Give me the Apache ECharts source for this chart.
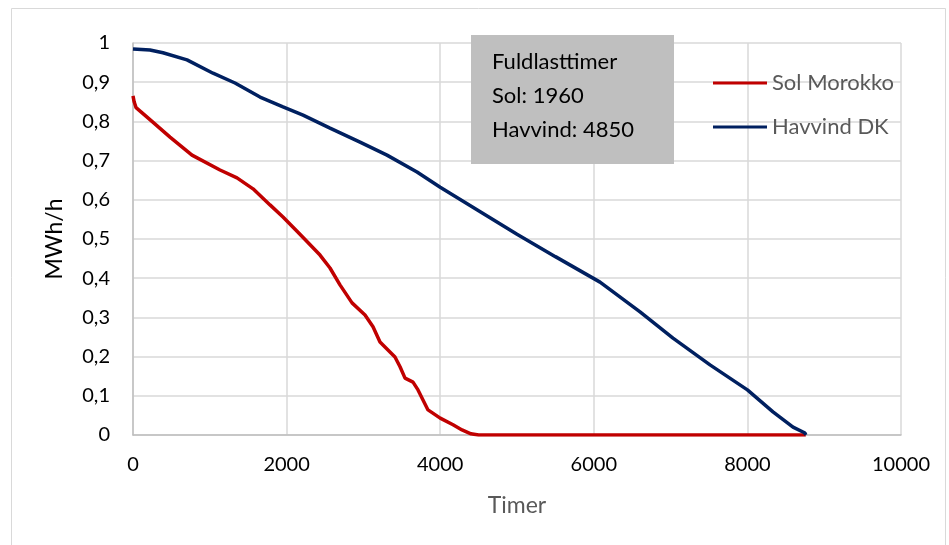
<!DOCTYPE html>
<html>
<head>
<meta charset="utf-8">
<script src="https://cdn.jsdelivr.net/npm/echarts@6/dist/echarts.min.js"></script>
<style>html,body{margin:0;padding:0;background:#fff}#c{width:949px;height:545px}</style>
</head>
<body>
<div id="c"></div>
<script>
const xTicks = [0, 2000, 4000, 6000, 8000, 10000];
const solHours = [0,15,40,100,247,482,768,1133,1354,1563,1784,1953,2174,2435,2565,2695,2852,3021,3125,3216,3411,3477,3542,3646,3711,3841,4000,4167,4284,4400,4500,8760];
const solValues = [0.865,0.85,0.835,0.825,0.80,0.76,0.714,0.676,0.656,0.628,0.587,0.556,0.512,0.459,0.426,0.383,0.337,0.306,0.276,0.237,0.199,0.174,0.145,0.135,0.115,0.064,0.043,0.026,0.013,0.003,0,0];
const vindHours = [0,221,390,703,1042,1328,1654,1953,2214,2565,2956,3307,3698,4000,4500,5000,5500,6081,6602,7031,7513,8000,8333,8594,8750,8760];
const vindValues = [0.985,0.982,0.975,0.957,0.923,0.898,0.862,0.837,0.816,0.783,0.747,0.714,0.671,0.632,0.572,0.512,0.455,0.390,0.314,0.247,0.179,0.115,0.059,0.020,0.005,0];
const boxLines = ['Fuldlasttimer', 'Sol: 1960', 'Havvind: 4850'];

const font = 'Lato, "Open Sans", sans-serif';
const chart = echarts.init(document.getElementById('c'));
chart.setOption({
  backgroundColor: '#fff',
  animation: false,
  textStyle: { fontFamily: font },
  grid: { left: 133, right: 48, top: 43, bottom: 110 },
  legend: {
    orient: 'vertical', left: 708, top: 67,
    icon: 'rect', itemWidth: 54, itemHeight: 3, itemGap: 22,
    textStyle: { fontSize: 22, color: '#595959', fontFamily: font },
    data: ['Sol Morokko', 'Havvind DK']
  },
  xAxis: {
    type: 'value', min: 0, max: 10000, interval: 2000,
    name: 'Timer', nameLocation: 'middle', nameGap: 59,
    nameTextStyle: { fontSize: 23, color: '#595959', fontFamily: font },
    axisLine: { show: true, lineStyle: { color: '#bfbfbf', width: 1.5 } },
    axisTick: { show: false },
    axisLabel: { fontSize: 20, color: '#000', margin: 20, fontFamily: font,
      formatter: v => String(v) },
    splitLine: { show: true, lineStyle: { color: '#d9d9d9', width: 1.5 } }
  },
  yAxis: {
    type: 'value', min: 0, max: 1, interval: 0.1,
    name: 'MWh/h', nameLocation: 'middle', nameGap: 67,
    nameTextStyle: { fontSize: 23, color: '#000', fontFamily: font },
    axisLine: { show: true, lineStyle: { color: '#bfbfbf', width: 1.5 } },
    axisTick: { show: false },
    axisLabel: { fontSize: 20, color: '#000', margin: 23, fontFamily: font,
      formatter: v => String(Math.round(v * 10) / 10).replace('.', ',') },
    splitLine: { show: true, lineStyle: { color: '#d9d9d9', width: 1.5 } }
  },
  series: [
    { name: 'Sol Morokko', type: 'line', showSymbol: false, symbol: 'none',
      color: '#c00000', lineStyle: { width: 3.5, color: '#c00000' },
      data: solHours.map((h, i) => [h, solValues[i]]) },
    { name: 'Havvind DK', type: 'line', showSymbol: false, symbol: 'none',
      color: '#002060', lineStyle: { width: 3.5, color: '#002060' },
      data: vindHours.map((h, i) => [h, vindValues[i]]) }
  ],
  graphic: [
    { type: 'rect', shape: { x: 11.5, y: 8.5, width: 934, height: 560 },
      style: { fill: 'none', stroke: '#d9d9d9', lineWidth: 1 }, silent: true, z: -10 },
    { type: 'rect', shape: { x: 471, y: 35, width: 203, height: 129 },
      style: { fill: '#bfbfbf' }, z: 100 },
    { type: 'text', left: 492, top: 45, z: 101,
      style: { text: boxLines.join('\n'), fontSize: 22, lineHeight: 34, fill: '#000', fontFamily: font } }
  ]
});
</script>
</body>
</html>
